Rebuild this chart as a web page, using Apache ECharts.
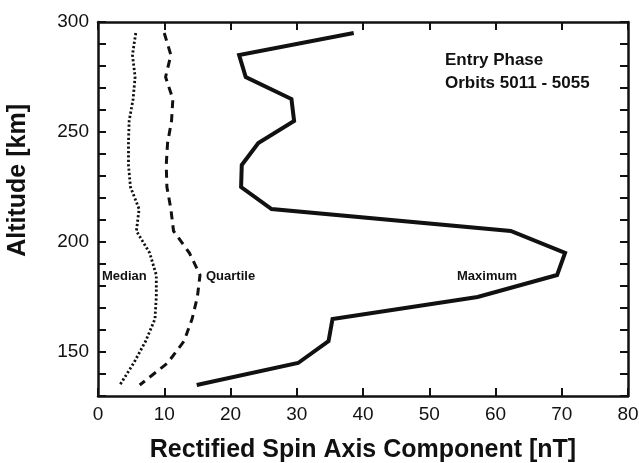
<!DOCTYPE html>
<html>
<head>
<meta charset="utf-8">
<script src="https://cdn.jsdelivr.net/npm/echarts@6/dist/echarts.min.js"></script>
<style>
  html, body { margin: 0; padding: 0; background: #fff; }
  #chart { width: 639px; height: 463px; }
</style>
</head>
<body>
<div id="chart"></div>
<script>
// altitude [km] of each sample, shared by the three profiles
var altitudes = [295, 285, 275, 265, 255, 245, 235, 225, 215, 205, 195, 185, 175, 165, 155, 145, 135];
// rectified spin axis component [nT]
var median   = [5.7, 5.2, 5.6, 5.3, 4.7, 4.6, 4.6, 4.9, 6.2, 5.8, 7.8, 8.8, 8.8, 8.6, 7.2, 5.4, 3.3];
var quartile = [10.0, 11.0, 10.2, 11.3, 11.1, 10.5, 10.3, 10.4, 11.0, 11.4, 13.8, 15.4, 15.0, 14.2, 13.0, 10.5, 6.3];
var maximum  = [38.6, 21.3, 22.3, 29.2, 29.6, 24.2, 21.7, 21.6, 26.2, 62.3, 70.5, 69.3, 57.3, 35.4, 34.8, 30.2, 14.9];

var xTicks = [0, 80, 10];      // min, max, interval
var yTicks = [130, 300, 10];

var pairs = function (vals) {
    var out = [];
    for (var i = 0; i < vals.length; i++)
        out.push([vals[i], altitudes[i]]);
    return out;
};

var FONT = '"Liberation Sans", Arial, Helvetica, sans-serif';
var INK = '#111';

var myChart = echarts.init(document.getElementById('chart'));

var frameAxis = {
    axisLine: { show: true, onZero: false, lineStyle: { color: INK, width: 2.5 } },
    axisTick: { show: true, inside: true, length: 8, lineStyle: { color: INK, width: 2 } },
    splitLine: { show: false }
};

var option = {
    animation: false,
    backgroundColor: '#fff',
    grid: { left: 98, right: 11, top: 22, bottom: 67, outerBoundsMode: 'none' },
    xAxis: [
        Object.assign({
            type: 'value', min: xTicks[0], max: xTicks[1], interval: xTicks[2],
            position: 'bottom',
            axisLabel: { color: INK, fontSize: 19, fontFamily: FONT, margin: 9 },
            name: 'Rectified Spin Axis Component [nT]',
            nameLocation: 'middle', nameGap: 42,
            nameTextStyle: { color: INK, fontSize: 25, fontWeight: 'bold', fontFamily: FONT }
        }, frameAxis),
        Object.assign({
            type: 'value', min: xTicks[0], max: xTicks[1], interval: xTicks[2],
            position: 'top', axisLabel: { show: false }
        }, frameAxis)
    ],
    yAxis: [
        Object.assign({
            type: 'value', min: yTicks[0], max: yTicks[1], interval: yTicks[2],
            position: 'left',
            axisLabel: {
                color: INK, fontSize: 19, fontFamily: FONT, margin: 9,
                formatter: function (v) { return v % 50 === 0 ? String(v) : ''; }
            }
        }, frameAxis),
        Object.assign({
            type: 'value', min: yTicks[0], max: yTicks[1], interval: yTicks[2],
            position: 'right', axisLabel: { show: false }
        }, frameAxis)
    ],
    series: [
        {
            name: 'Median', type: 'line', data: pairs(median),
            symbol: 'none', silent: true,
            lineStyle: { color: INK, width: 2.8, type: [2.2, 2.2] }
        },
        {
            name: 'Quartile', type: 'line', data: pairs(quartile),
            symbol: 'none', silent: true,
            lineStyle: { color: INK, width: 3, type: [8, 6] }
        },
        {
            name: 'Maximum', type: 'line', data: pairs(maximum),
            symbol: 'none', silent: true,
            lineStyle: { color: INK, width: 4, join: 'miter' }
        }
    ],
    graphic: [
        {
            type: 'text', left: 6, top: 104, rotation: Math.PI / 2,
            style: { text: 'Altitude [km]', fill: INK, font: 'bold 25px ' + FONT }
        },
        {
            type: 'text', left: 445, top: 49,
            style: { text: 'Entry Phase\nOrbits 5011 - 5055', fill: INK, font: 'bold 17px ' + FONT, lineHeight: 23 }
        },
        {
            type: 'text', left: 102, top: 270,
            style: { text: 'Median', fill: INK, font: 'bold 13px ' + FONT }
        },
        {
            type: 'text', left: 206, top: 270,
            style: { text: 'Quartile', fill: INK, font: 'bold 13px ' + FONT }
        },
        {
            type: 'text', left: 457, top: 270,
            style: { text: 'Maximum', fill: INK, font: 'bold 13px ' + FONT }
        }
    ]
};

myChart.setOption(option);
</script>
</body>
</html>
